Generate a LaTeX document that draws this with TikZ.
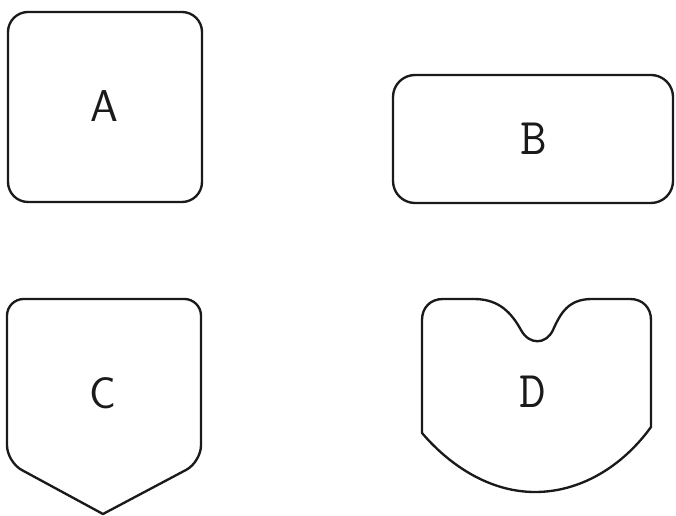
\documentclass[tikz,border=0pt]{standalone}
\usepackage{xcolor}
\usepackage{tikz}
\definecolor{PlateInk}{HTML}{1A1A1A}

\begin{document}
\begin{tikzpicture}[x=0.03cm,y=-0.03cm,
    outline/.style={PlateInk,line width=2pt,line join=round,line cap=round},
    letter/.style={PlateInk,inner sep=0pt,font=\sffamily\fontsize{38}{38}\selectfont},
    slabletter/.style={PlateInk,inner sep=0pt,font=\ttfamily\fontsize{44}{44}\selectfont}]
  \useasboundingbox (0,0) rectangle (676,516);
  % plate A
  \draw[outline,rounded corners=0.6cm] (8,12) rectangle (202,202);
  \node[letter] (labA) at (104,106) {A};
  % plate B
  \draw[outline,rounded corners=0.66cm] (393,75) rectangle (673,203);
  \node[slabletter] (labB) at (534,139) {B};
  % plate C
  \draw[outline,rounded corners=0.5cm] (103,514) -- (7,462) -- (7,299)
    -- (201,299) -- (201,462) -- (103,514);
  \node[letter] (labC) at (103,393) {C};
  % plate D
  \draw[outline] (422,433) -- (422,320) .. controls (422,308) and (430,299) .. (443,299)
    -- (474,299) .. controls (500,299) and (512,314) .. (521,330)
    .. controls (529,345) and (546,345) .. (553,330)
    .. controls (561,312) and (569,299) .. (592,299)
    -- (630,299) .. controls (643,299) and (651,308) .. (651,320) -- (651,427)
    .. controls (622,467) and (580,492) .. (535,492)
    .. controls (492,492) and (452,468) .. (422,433) -- cycle;
  \node[slabletter] (labD) at (533,392) {D};
\end{tikzpicture}
\end{document}
